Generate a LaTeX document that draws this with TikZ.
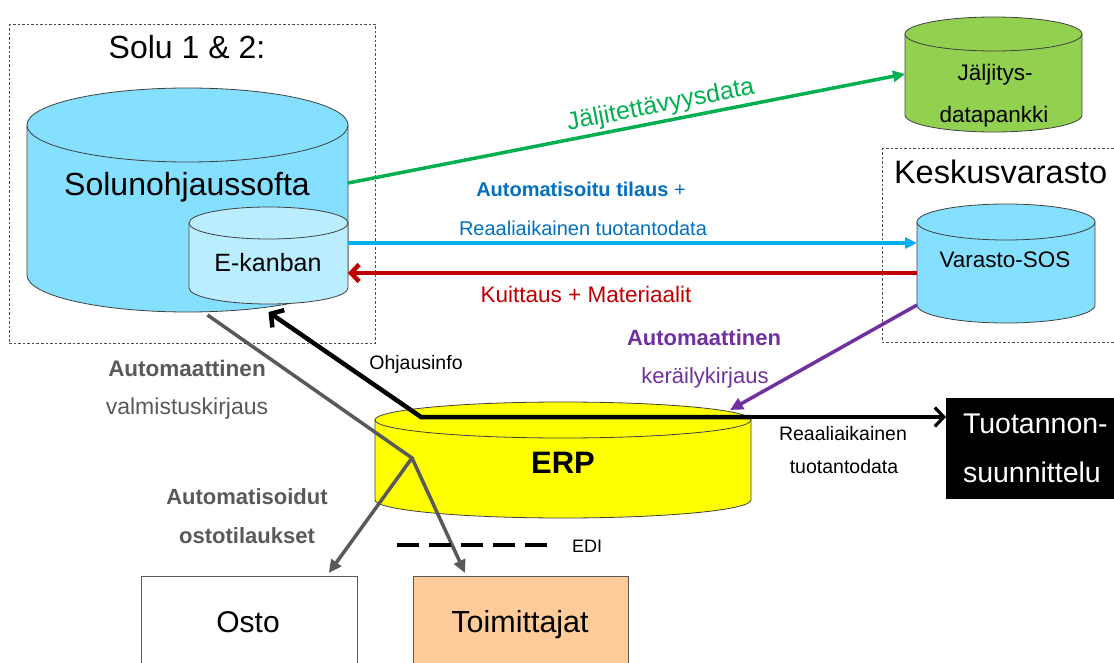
\documentclass[tikz,border=0pt]{standalone}
\usepackage{fontspec}
\setmainfont{Liberation Sans}
\usetikzlibrary{arrows.meta,calc}

\definecolor{cellblue}{HTML}{85E0FF}
\definecolor{kanbanblue}{HTML}{BAEEFF}
\definecolor{tracegreen}{HTML}{92D050}
\definecolor{erpyellow}{HTML}{FFFF00}
\definecolor{linkgreen}{HTML}{00B050}
\definecolor{linkblue}{HTML}{00B0F0}
\definecolor{textblue}{HTML}{0070C0}
\definecolor{linkred}{HTML}{C00000}
\definecolor{linkpurple}{HTML}{7030A0}
\definecolor{linkgray}{HTML}{595959}
\definecolor{supplier}{HTML}{FFCC99}

% \drum{name}{x left}{x right}{y top centre}{y bottom centre}{y radius}{fill}
\newcommand\drum[7]{%
  \pgfmathsetmacro\cyA{#2}\pgfmathsetmacro\cyB{#3}%
  \pgfmathsetmacro\cyT{#4}\pgfmathsetmacro\cyD{#5}\pgfmathsetmacro\cyR{#6}%
  \pgfmathsetmacro\cyC{(\cyA+\cyB)/2}\pgfmathsetmacro\cyX{(\cyB-\cyA)/2}%
  \pgfmathsetmacro\cyKx{0.5523*\cyX}\pgfmathsetmacro\cyKy{0.5523*\cyR}%
  \path[drumline,fill=#7] (\cyA,\cyT) -- (\cyA,\cyD)
    .. controls (\cyA,\cyD+\cyKy) and (\cyC-\cyKx,\cyD+\cyR) .. (\cyC,\cyD+\cyR)
    .. controls (\cyC+\cyKx,\cyD+\cyR) and (\cyB,\cyD+\cyKy) .. (\cyB,\cyD)
    -- (\cyB,\cyT) -- cycle;
  \path[drumline,fill=#7] (\cyC,\cyT) ellipse [x radius=\cyX, y radius=\cyR];
  \pgfmathsetmacro\cyW{2*\cyX}\pgfmathsetmacro\cyH{\cyD-\cyT+2*\cyR}%
  \pgfmathsetmacro\cyM{(\cyT+\cyD)/2}%
  \node[inner sep=0pt,outer sep=0pt,minimum width=\cyW pt,minimum height=\cyH pt]
    (#1) at (\cyC,\cyM) {};%
}

\begin{document}
\begin{tikzpicture}[x=1pt,y=-1pt,
  drumline/.style={draw=black!75,line width=0.8pt},
  frame/.style={draw=black!70,line width=0.7pt,dash pattern=on 2.5pt off 2pt},
  lbl/.style={inner sep=0pt,outer sep=0pt,anchor=base},
  fs/.style={font=\fontsize{#1}{#1}\selectfont},
  fsb/.style={font=\fontsize{#1}{#1}\selectfont\bfseries},
  plainbox/.style={draw=linkgray,line width=0.8pt,inner sep=0pt,anchor=north west},
  greenarrow/.style={linkgreen,line width=3.5pt,-{Triangle[length=12pt,width=11pt]}},
  bluearrow/.style={linkblue,line width=3.5pt,-{Triangle[length=12pt,width=11pt]}},
  redarrow/.style={linkred,line width=4.5pt,-{Straight Barb[length=8pt,width=17pt]}},
  purplearrow/.style={linkpurple,line width=3.5pt,-{Triangle[length=13pt,width=12pt]}},
  grayarrow/.style={linkgray,line width=3.5pt,-{Triangle[length=13pt,width=12pt]}},
  ediline/.style={line width=4pt,dash pattern=on 22pt off 10pt}]

\useasboundingbox (0,0) rectangle (1114,663);
\clip (0,0) rectangle (1114,663);

% dashed groupings
\draw[frame] (9,24) rectangle (375,343);
\draw[frame] (882,148) rectangle (1130,342);

% databases
\drum{solu}{27}{348}{125}{275}{37}{cellblue}
\drum{ek}{189}{348}{223}{288}{16}{kanbanblue}
\drum{jdb}{905}{1082}{34}{115}{17}{tracegreen}
\drum{vs}{917}{1095}{222}{305}{18}{cellblue}
\drum{erp}{375}{751}{420}{500}{18}{erpyellow}

% boxes
\node[plainbox,fill=white,minimum width=216pt,minimum height=110pt] (osto) at (141,576) {};
\node[plainbox,fill=supplier,minimum width=215pt,minimum height=110pt] (toim) at (413,576) {};
\node[fill=black,inner sep=0pt,anchor=north west,minimum width=190pt,minimum height=101pt] (tuo) at (946,398) {};

% connectors
\draw[greenarrow] (solu.east |- 0,183) -- (jdb.west |- 0,74);
\draw[bluearrow] (ek.east |- 0,243) -- (vs.west |- 0,243);
\draw[redarrow] (vs.west |- 0,273) -- (ek.east |- 0,273);
\coordinate (erpk) at (730,410);
\draw[purplearrow] (vs.west |- 0,305) -- (erpk);

\coordinate (hub) at (421,417);
\draw[line width=4.5pt,-{Straight Barb[length=9pt,width=21pt]}]
  (erp.east |- hub) -- (hub) -- (solu.south -| ek);
\draw[line width=3.2pt,-{Straight Barb[length=9pt,width=19pt]}]
  (erp.east |- hub) -- (tuo.west |- hub);

\coordinate (gj) at (412,458);
\draw[grayarrow] ($(solu.south)+(20,3)$) -- (gj) -- ($(osto.north east)+(-29,-3)$);
\draw[grayarrow] (gj) -- ($(toim.north west)+(52,-3)$);

\coordinate (edia) at (397,545);
\coordinate (edib) at (548,545);
\draw[ediline] (edia) -- (edib);

% texts
\node[lbl,fs=32] (solutitle) at (187,59) {Solu 1 \& 2:};
\node[lbl,fs=32] (solutxt) at (187,196) {Solunohjaussofta};
\node[lbl,fs=25] (ektxt) at (268,272) {E-kanban};
\node[lbl,fs=22.5] (jdb1) at (995,81) {Jäljitys-};
\node[lbl,fs=22.5] (jdb2) at (994,123) {datapankki};
\node[lbl,fs=32.5,anchor=base west] (kesk) at (894,184) {Keskusvarasto};
\node[lbl,fs=22.5] (vstxt) at (1005,268) {Varasto-SOS};
\node[lbl,fsb=31] (erptxt) at (563,473) {ERP};
\node[lbl,fs=28.5,anchor=base west,text=white] (tuo1) at (963,433) {Tuotannon-};
\node[lbl,fs=28.5,anchor=base west,text=white] (tuo2) at (963,482) {suunnittelu};

\node[lbl,fs=25,text=linkgreen,rotate=11.1] (trace) at (662,112) {Jäljitettävyysdata};
\node[lbl,fs=20,text=textblue] (order1) at (581,197) {\textbf{Automatisoitu tilaus} +};
\node[lbl,fs=20,text=textblue] (order2) at (583,236) {Reaaliaikainen tuotantodata};
\node[lbl,fs=22.5,text=linkred] (ack) at (586,302) {Kuittaus + Materiaalit};
\node[lbl,fsb=22,text=linkpurple] (pick1) at (704,345) {Automaattinen};
\node[lbl,fs=22,text=linkpurple] (pick2) at (705,383) {keräilykirjaus};
\node[lbl,fs=19.5] (ctrl) at (416,369) {Ohjausinfo};
\node[lbl,fs=19.5] (rt1) at (843,440) {Reaaliaikainen};
\node[lbl,fs=19.5] (rt2) at (844,473) {tuotantodata};
\node[lbl,fsb=22.5,text=linkgray] (mfg1) at (187,376) {Automaattinen};
\node[lbl,fs=23,text=linkgray] (mfg2) at (187,414) {valmistuskirjaus};
\node[lbl,fsb=22,text=linkgray] (po1) at (247,504) {Automatisoidut};
\node[lbl,fsb=22,text=linkgray] (po2) at (247,543) {ostotilaukset};
\node[lbl,fs=18,anchor=base west] (edi) at (572,552) {EDI};
\node[lbl,fs=30] (ostotxt) at (248,632) {Osto};
\node[lbl,fs=30.5] (toimtxt) at (520,632) {Toimittajat};
\end{tikzpicture}
\end{document}
